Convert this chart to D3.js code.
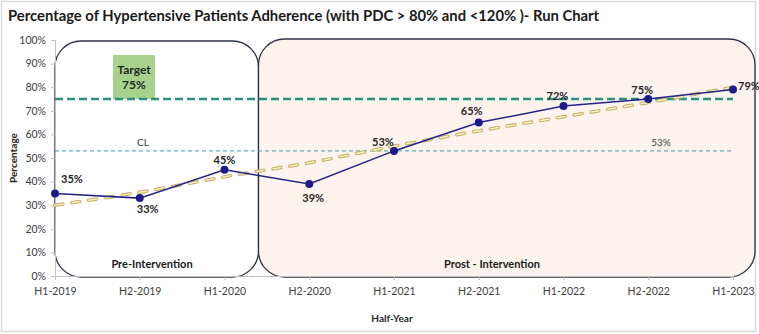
<!DOCTYPE html>
<html>
<head>
<meta charset="utf-8">
<script src="https://cdn.jsdelivr.net/npm/d3@7"></script>
<style>
  body { margin: 0; background: #fff; }
  svg text { font-family: Lato, "Open Sans", sans-serif; }
</style>
</head>
<body>
<div id="chart"></div>
<script>
const categories = ["H1-2019", "H2-2019", "H1-2020", "H2-2020", "H1-2021", "H2-2021", "H1-2022", "H2-2022", "H1-2023"];
const adherence = [0.35, 0.33, 0.45, 0.39, 0.53, 0.65, 0.72, 0.75, 0.79];
const trend = [0.30, 0.355, 0.42, 0.48, 0.55, 0.615, 0.675, 0.735, 0.80];
const targetValue = 0.75;
const centerLine = 0.53;
const yTicks = [0, 0.1, 0.2, 0.3, 0.4, 0.5, 0.6, 0.7, 0.8, 0.9, 1];
// label placement for each point: dx, dy
const labelPos = [[17, -10], [8, 15], [0, -6], [4, 18], [-11, -5], [-7, -8], [-6, -6], [-6, -5], [16, 0]];

const width = 759, height = 334;
const pct = d3.format(".0%");

const svg = d3.select("#chart").append("svg")
    .attr("width", width)
    .attr("height", height);

// chart area border
svg.append("rect")
    .attr("x", 1.5).attr("y", 1.5)
    .attr("width", 754).attr("height", 330)
    .attr("fill", "#fff")
    .attr("stroke", "#d9d9d9")
    .attr("stroke-width", 1.5);

const x = d3.scalePoint().domain(categories).range([55, 733]);
const y = d3.scaleLinear().domain([0, 1]).range([276, 40]);

// intervention boxes
const preRight = x(categories[2]) + 34;
svg.append("rect")
    .attr("x", x(categories[0])).attr("y", y(1) + 1)
    .attr("width", preRight - x(categories[0]))
    .attr("height", y(0) - y(1))
    .attr("rx", 26).attr("ry", 26)
    .attr("fill", "#fff")
    .attr("stroke", "#2b3147")
    .attr("stroke-width", 1.3);

svg.append("rect")
    .attr("x", preRight).attr("y", y(1) - 1)
    .attr("width", 755 - preRight)
    .attr("height", y(0) - y(1) + 2)
    .attr("rx", 26).attr("ry", 26)
    .attr("fill", "#fdf3ee")
    .attr("stroke", "#2b3147")
    .attr("stroke-width", 1.3);

// axes
svg.append("g")
    .attr("transform", `translate(55,0)`)
    .call(d3.axisLeft(y).tickValues(yTicks).tickFormat(pct).tickSize(4).tickPadding(5))
    .call(g => g.select(".domain").attr("stroke", "#bfbfbf"))
    .call(g => g.selectAll(".tick line").attr("stroke", "#bfbfbf"))
    .call(g => g.selectAll("text").attr("fill", "#404040").attr("font-size", 10.5));

svg.append("g")
    .attr("transform", `translate(0,${y(0)})`)
    .call(d3.axisBottom(x).tickSize(4).tickPadding(8))
    .call(g => g.select(".domain").attr("stroke", "#bfbfbf"))
    .call(g => g.selectAll(".tick line").attr("stroke", "#bfbfbf"))
    .call(g => g.selectAll("text").attr("fill", "#404040").attr("font-size", 10.5));

// target box
svg.append("rect")
    .attr("x", 113).attr("y", 55)
    .attr("width", 42).attr("height", y(targetValue) - 55)
    .attr("fill", "#a9d18e");
svg.append("text")
    .attr("x", 134).attr("y", 74)
    .attr("text-anchor", "middle")
    .attr("font-size", 12).attr("font-weight", "bold").attr("fill", "#1f2a1f")
    .text("Target");
svg.append("text")
    .attr("x", 134).attr("y", 89)
    .attr("text-anchor", "middle")
    .attr("font-size", 12).attr("font-weight", "bold").attr("fill", "#1f2a1f")
    .text(pct(targetValue));

// target line
svg.append("line")
    .attr("x1", x(categories[0])).attr("x2", x(categories[8]))
    .attr("y1", y(targetValue)).attr("y2", y(targetValue))
    .attr("stroke", "#2a9080")
    .attr("stroke-width", 2.5)
    .attr("stroke-dasharray", "8,4");

// center line
svg.append("line")
    .attr("x1", x(categories[0])).attr("x2", x(categories[8]))
    .attr("y1", y(centerLine)).attr("y2", y(centerLine))
    .attr("stroke", "#3aa0a8")
    .attr("stroke-width", 1)
    .attr("stroke-dasharray", "4,3");
svg.append("text")
    .attr("x", 143).attr("y", y(centerLine) - 5)
    .attr("text-anchor", "middle")
    .attr("font-size", 10).attr("fill", "#404040")
    .text("CL");
svg.append("text")
    .attr("x", 661).attr("y", y(centerLine) - 5)
    .attr("text-anchor", "middle")
    .attr("font-size", 10).attr("fill", "#404040")
    .text(pct(centerLine));

// trend line (outlined dashes)
const trendLine = d3.line()
    .x((d, i) => x(categories[i]))
    .y(d => y(d))
    .curve(d3.curveMonotoneX);
svg.append("path")
    .datum(trend)
    .attr("d", trendLine)
    .attr("fill", "none")
    .attr("stroke", "#c4b062")
    .attr("stroke-width", 3.5)
    .attr("stroke-linecap", "round")
    .attr("stroke-dasharray", "8,9");
svg.append("path")
    .datum(trend)
    .attr("d", trendLine)
    .attr("fill", "none")
    .attr("stroke", "#f6eec4")
    .attr("stroke-width", 1.5)
    .attr("stroke-linecap", "round")
    .attr("stroke-dasharray", "8,9");

// data line
const line = d3.line()
    .x((d, i) => x(categories[i]))
    .y(d => y(d));
svg.append("path")
    .datum(adherence)
    .attr("d", line)
    .attr("fill", "none")
    .attr("stroke", "#25238a")
    .attr("stroke-width", 1.5);

svg.append("g")
    .selectAll("circle")
    .data(adherence)
    .join("circle")
    .attr("cx", (d, i) => x(categories[i]))
    .attr("cy", d => y(d))
    .attr("r", 4)
    .attr("fill", "#1c1a8a");

svg.append("g")
    .selectAll("text")
    .data(adherence)
    .join("text")
    .attr("x", (d, i) => x(categories[i]) + labelPos[i][0])
    .attr("y", (d, i) => y(d) + labelPos[i][1])
    .attr("text-anchor", "middle")
    .attr("font-size", 11).attr("font-weight", "bold").attr("fill", "#262626")
    .text(d => pct(d));

// box labels
svg.append("text")
    .attr("x", 152).attr("y", 268)
    .attr("text-anchor", "middle")
    .attr("font-size", 11).attr("font-weight", "bold").attr("fill", "#1a1a1a")
    .text("Pre-Intervention");
svg.append("text")
    .attr("x", 492).attr("y", 268)
    .attr("text-anchor", "middle")
    .attr("font-size", 11).attr("font-weight", "bold").attr("fill", "#1a1a1a")
    .text("Prost - Intervention");

// titles
svg.append("text")
    .attr("x", 8).attr("y", 21)
    .attr("font-size", 14.8).attr("font-weight", "bold").attr("fill", "#1a1a1a")
    .text("Percentage of Hypertensive Patients Adherence (with PDC > 80% and <120% )- Run Chart");
svg.append("text")
    .attr("x", 392).attr("y", 322)
    .attr("text-anchor", "middle")
    .attr("font-size", 10).attr("font-weight", "bold").attr("fill", "#262626")
    .text("Half-Year");
svg.append("text")
    .attr("transform", `translate(17,${158}) rotate(-90)`)
    .attr("text-anchor", "middle")
    .attr("font-size", 10).attr("font-weight", "bold").attr("fill", "#262626")
    .text("Percentage");
</script>
</body>
</html>
